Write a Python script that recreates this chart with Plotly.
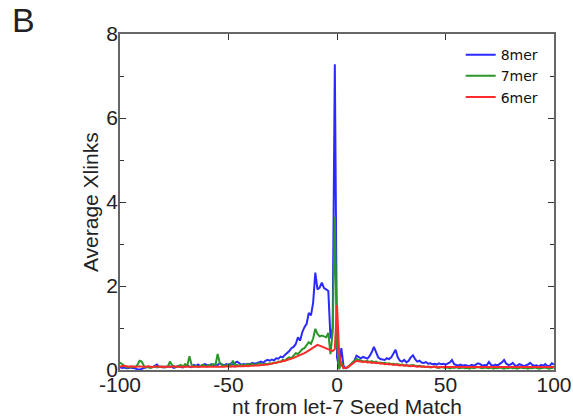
import plotly.graph_objects as go

positions = list(range(-100, 101))

mer8 = [
    0.07, 0.05, 0.06, 0.04, 0.05, 0.06, 0.05, 0.03, 0.02, 0.01,
    0.03, 0.05, 0.06, 0.08, 0.06, 0.07, 0.10, 0.13, 0.08, 0.07,
    0.06, 0.08, 0.07, 0.09, 0.06, 0.05, 0.08, 0.10, 0.07, 0.06,
    0.09, 0.11, 0.08, 0.07, 0.12, 0.10, 0.13, 0.09, 0.11, 0.14,
    0.12, 0.10, 0.14, 0.11, 0.13, 0.12, 0.16, 0.13, 0.11, 0.14,
    0.12, 0.15, 0.13, 0.17, 0.20, 0.16, 0.12, 0.14, 0.13, 0.15,
    0.14, 0.17, 0.15, 0.16, 0.18, 0.20, 0.17, 0.22, 0.24, 0.22,
    0.25, 0.23, 0.28, 0.27, 0.32, 0.30, 0.36, 0.40, 0.45, 0.52,
    0.55, 0.62, 0.78, 0.70, 0.90, 1.02, 1.10, 1.36, 1.30, 1.60,
    2.32, 1.92, 1.96, 2.08, 1.95, 1.92, 1.88, 0.75, 1.00, 7.28,
    0.30, 0.05, 0.52, 0.10, 0.04, 0.06, 0.12, 0.16, 0.22, 0.34,
    0.30, 0.28, 0.31, 0.29, 0.27, 0.33, 0.42, 0.55, 0.40, 0.30,
    0.26, 0.25, 0.24, 0.28, 0.26, 0.30, 0.38, 0.48, 0.30, 0.22,
    0.20, 0.24, 0.18, 0.22, 0.30, 0.35, 0.26, 0.20, 0.22, 0.18,
    0.17, 0.19, 0.15, 0.16, 0.14, 0.15, 0.13, 0.16, 0.14, 0.15,
    0.13, 0.16, 0.18, 0.24, 0.14, 0.12, 0.11, 0.13, 0.10, 0.12,
    0.11, 0.09, 0.12, 0.10, 0.13, 0.16, 0.14, 0.10, 0.12, 0.11,
    0.19, 0.12, 0.10, 0.13, 0.11, 0.14, 0.18, 0.24, 0.15, 0.12,
    0.13, 0.17, 0.11, 0.10, 0.14, 0.12, 0.09, 0.11, 0.13, 0.17,
    0.12, 0.10, 0.11, 0.08, 0.12, 0.10, 0.14, 0.09, 0.10, 0.16,
    0.13,
]

mer7 = [
    0.18, 0.14, 0.08, 0.06, 0.07, 0.06, 0.08, 0.07, 0.12, 0.22,
    0.20, 0.10, 0.06, 0.07, 0.05, 0.06, 0.08, 0.06, 0.07, 0.09,
    0.07, 0.06, 0.08, 0.20, 0.12, 0.08, 0.07, 0.10, 0.12, 0.08,
    0.14, 0.10, 0.33, 0.12, 0.08, 0.10, 0.07, 0.09, 0.12, 0.10,
    0.08, 0.12, 0.10, 0.14, 0.12, 0.38, 0.16, 0.12, 0.10, 0.11,
    0.13, 0.10, 0.22, 0.11, 0.12, 0.10, 0.13, 0.11, 0.12, 0.14,
    0.12, 0.15, 0.11, 0.13, 0.16, 0.14, 0.12, 0.15, 0.14, 0.16,
    0.15, 0.18, 0.17, 0.20, 0.19, 0.24, 0.22, 0.27, 0.30, 0.28,
    0.34, 0.40, 0.38, 0.45, 0.50, 0.52, 0.60, 0.66, 0.62, 0.75,
    0.98, 0.86, 0.80, 0.82, 0.80, 0.78, 0.88, 0.38, 0.90, 3.65,
    0.60, 0.02, 0.20, 0.04, 0.05, 0.07, 0.12, 0.18, 0.22, 0.26,
    0.24, 0.22, 0.21, 0.20, 0.22, 0.19, 0.21, 0.18, 0.20, 0.17,
    0.18, 0.16, 0.17, 0.15, 0.16, 0.14, 0.15, 0.13, 0.14, 0.12,
    0.13, 0.11, 0.12, 0.10, 0.11, 0.12, 0.10, 0.09, 0.10, 0.08,
    0.09, 0.07, 0.08, 0.06, 0.07, 0.08, 0.06, 0.05, 0.07, 0.06,
    0.05, 0.06, 0.04, 0.06, 0.05, 0.07, 0.04, 0.05, 0.06, 0.04,
    0.05, 0.03, 0.06, 0.04, 0.05, 0.07, 0.05, 0.04, 0.06, 0.05,
    0.04, 0.06, 0.03, 0.05, 0.04, 0.06, 0.05, 0.03, 0.05, 0.04,
    0.06, 0.04, 0.05, 0.03, 0.05, 0.06, 0.04, 0.05, 0.03, 0.05,
    0.04, 0.06, 0.05, 0.03, 0.04, 0.05, 0.06, 0.04, 0.03, 0.05,
    0.06,
]

mer6 = [
    0.08, 0.09, 0.10, 0.09, 0.08, 0.09, 0.08, 0.07, 0.08, 0.09,
    0.08, 0.07, 0.08, 0.09, 0.08, 0.07, 0.08, 0.09, 0.08, 0.07,
    0.08, 0.07, 0.08, 0.07, 0.08, 0.09, 0.08, 0.07, 0.08, 0.08,
    0.07, 0.08, 0.07, 0.08, 0.07, 0.08, 0.07, 0.08, 0.07, 0.08,
    0.08, 0.07, 0.08, 0.07, 0.08, 0.08, 0.07, 0.08, 0.08, 0.09,
    0.08, 0.08, 0.09, 0.08, 0.09, 0.09, 0.08, 0.09, 0.10, 0.09,
    0.10, 0.10, 0.11, 0.10, 0.11, 0.12, 0.12, 0.13, 0.13, 0.14,
    0.15, 0.16, 0.17, 0.18, 0.19, 0.20, 0.22, 0.24, 0.25, 0.27,
    0.29, 0.31, 0.33, 0.36, 0.38, 0.40, 0.43, 0.46, 0.50, 0.53,
    0.56, 0.60, 0.58, 0.56, 0.54, 0.52, 0.50, 0.47, 0.45, 0.50,
    1.55, 0.40, 0.12, 0.05, 0.05, 0.07, 0.11, 0.15, 0.19, 0.22,
    0.21, 0.20, 0.19, 0.20, 0.18, 0.19, 0.17, 0.18, 0.16, 0.17,
    0.15, 0.16, 0.14, 0.15, 0.13, 0.14, 0.12, 0.13, 0.12, 0.11,
    0.12, 0.10, 0.11, 0.10, 0.09, 0.10, 0.09, 0.08, 0.09, 0.08,
    0.08, 0.07, 0.08, 0.07, 0.07, 0.08, 0.06, 0.07, 0.07, 0.06,
    0.07, 0.06, 0.07, 0.06, 0.07, 0.06, 0.07, 0.06, 0.07, 0.06,
    0.06, 0.07, 0.06, 0.07, 0.06, 0.07, 0.06, 0.06, 0.07, 0.06,
    0.07, 0.06, 0.07, 0.06, 0.07, 0.06, 0.07, 0.06, 0.06, 0.07,
    0.06, 0.07, 0.06, 0.07, 0.06, 0.07, 0.06, 0.07, 0.06, 0.07,
    0.06, 0.07, 0.06, 0.07, 0.06, 0.07, 0.06, 0.07, 0.06, 0.07,
    0.07,
]

series_names = ["8mer", "7mer", "6mer"]
series_colors = ["#2a2aff", "#2a962a", "#ff2a2a"]
x_ticks = [-100, -50, 0, 50, 100]
y_ticks = [0, 2, 4, 6, 8]

fig = go.Figure()
for name, vals, col in zip(series_names, [mer8, mer7, mer6], series_colors):
    fig.add_trace(go.Scatter(
        x=positions, y=vals, mode="lines", name=name,
        line=dict(color=col, width=2),
    ))

tick_font = dict(family="Liberation Sans, Arial", size=21, color="#222")

fig.update_layout(
    width=573, height=419,
    margin=dict(l=120, r=19, t=34, b=49, autoexpand=False),
    paper_bgcolor="white", plot_bgcolor="white",
    showlegend=True,
    legend=dict(
        x=0.785, y=0.985, xanchor="left", yanchor="top",
        font=dict(family="DejaVu Sans", size=14, color="#111"),
        bgcolor="rgba(0,0,0,0)", borderwidth=0,
        itemwidth=30,
    ),
    xaxis=dict(
        range=[-100, 100], tickvals=x_ticks, ticktext=[str(v) for v in x_ticks],
        ticks="inside", ticklen=6, tickcolor="#333", mirror="ticks",
        showline=True, linecolor="#666", linewidth=1.5,
        showgrid=False, zeroline=False, tickfont=tick_font,
        ticklabelstandoff=-5, ticklabeloverflow="allow", automargin=False,
    ),
    yaxis=dict(
        range=[0, 8], tickvals=y_ticks, ticktext=[str(v) for v in y_ticks],
        ticks="inside", ticklen=6, tickcolor="#333", mirror="ticks",
        minor=dict(dtick=1, ticks="inside", ticklen=4, tickcolor="#333"),
        showline=True, linecolor="#666", linewidth=1.5,
        showgrid=False, zeroline=False, tickfont=tick_font,
        ticklabelstandoff=-4, ticklabeloverflow="allow", automargin=False,
    ),
    annotations=[
        dict(text="B", xref="paper", yref="paper", x=-0.2235, y=1.042,
             xanchor="center", yanchor="middle", showarrow=False,
             font=dict(family="Liberation Sans, Arial", size=34, color="#222")),
        dict(text="Average Xlinks", xref="paper", yref="paper", x=-0.069, y=0.5,
             xanchor="center", yanchor="middle", textangle=-90, showarrow=False,
             font=tick_font),
        dict(text="nt from let-7 Seed Match", xref="paper", yref="paper", x=0.523, y=-0.11,
             xanchor="center", yanchor="middle", showarrow=False,
             font=tick_font),
    ],
)

fig.write_html("out.html")
